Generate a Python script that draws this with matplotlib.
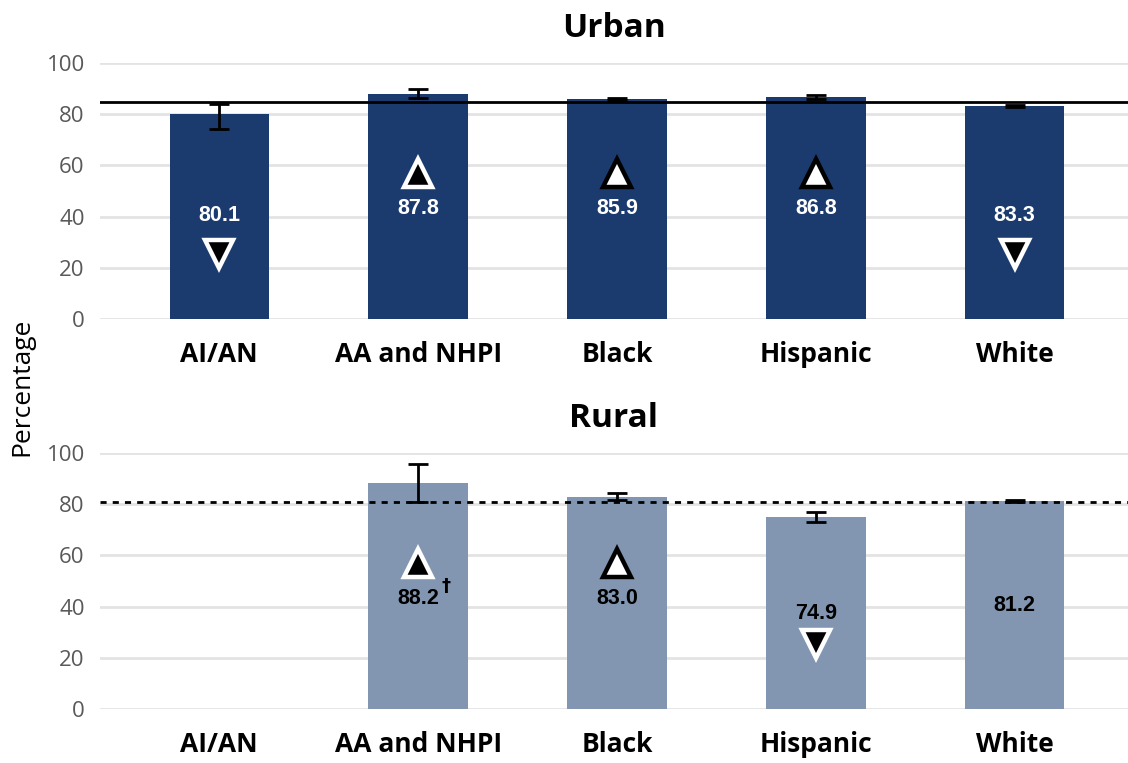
import matplotlib.pyplot as plt
import numpy as np

# data
groups = ['AI/AN', 'AA and NHPI', 'Black', 'Hispanic', 'White']

urban_vals = [80.1, 87.8, 85.9, 86.8, 83.3]
urban_err_lo = [5.9, 1.6, 0.5, 0.7, 0.4]
urban_err_hi = [3.9, 1.9, 0.5, 0.8, 0.4]
urban_ref = 84.6
# 'up'/'down' = arrow, 'f' filled (black in white), 'o' open (white in black)
urban_marks = ['down_f', 'up_f', 'up_o', 'up_o', 'down_f']

rural_vals = [np.nan, 88.2, 83.0, 74.9, 81.2]
rural_err_lo = [np.nan, 7.2, 1.4, 2.0, 0.3]
rural_err_hi = [np.nan, 7.5, 1.5, 1.9, 0.3]
rural_ref = 81.0
rural_marks = [None, 'up_f', 'up_o', 'down_f', None]
rural_notes = ['', '†', '', '', '']

urban_color = '#1B3A6E'
rural_color = '#8296B1'

plt.rcParams['font.family'] = ['Open Sans', 'DejaVu Sans']

fig = plt.figure(figsize=(11.28, 7.63), dpi=100)
W, H = 1128, 763
ax_top = fig.add_axes([100 / W, 1 - 319 / H, 1028 / W, 256 / H])
ax_bot = fig.add_axes([100 / W, 1 - 709 / H, 1028 / W, 256 / H])

x = np.arange(len(groups))


def draw_marker(ax, xi, y, kind):
    if kind is None:
        return
    shape = '^' if kind.startswith('up') else 'v'
    if kind.endswith('_f'):
        face, edge = 'black', 'white'
    else:
        face, edge = 'white', 'black'
    ax.plot(xi, y, marker=shape, ms=20, mfc=face, mec=edge, mew=3.2,
            linestyle='none', zorder=5)


def panel(ax, vals, lo, hi, ref, marks, color, txt_color, ref_style, title, notes=None):
    ax.set_xlim(-0.6, 4.57)
    ax.set_ylim(0, 100)
    ax.set_yticks(range(0, 101, 20))
    ax.grid(axis='y', color='#E3E3E3', linewidth=2)
    ax.set_axisbelow(True)
    for s in ax.spines.values():
        s.set_visible(False)
    ax.tick_params(axis='y', length=0, labelsize=16, labelcolor='#595959', pad=11)
    ax.tick_params(axis='x', length=0, pad=16)
    ax.set_xticks(x)
    ax.set_xticklabels(groups, fontsize=19, fontweight='bold')

    ax.bar(x, vals, width=0.5, color=color, zorder=2)
    ax.errorbar(x, vals, yerr=[lo, hi], fmt='none', ecolor='black',
                elinewidth=2, capsize=7, capthick=2, zorder=4)
    ax.axhline(ref, color='black', linewidth=2, linestyle=ref_style, zorder=3)

    for i, v in enumerate(vals):
        if np.isnan(v):
            continue
        m = marks[i]
        if m is None:
            ty = 40.6
        elif m.startswith('up'):
            draw_marker(ax, x[i], 57.0, m)
            ty = 43.3
        else:
            draw_marker(ax, x[i], 25.5, m)
            ty = 40.6 if txt_color == 'white' else 37.2
        ax.text(x[i], ty, f'{v:.1f}', ha='center', va='center', fontsize=15.5,
                fontweight='bold', color=txt_color, family='Liberation Sans', zorder=6)
        if notes and notes[i]:
            ax.annotate(notes[i], (x[i], ty), xytext=(20, 9), textcoords='offset points',
                        ha='center', va='center', fontsize=13, fontweight='bold',
                        family='DejaVu Sans', color=txt_color)

    ax.set_title(title, fontsize=24, fontweight='bold', pad=19)


panel(ax_top, urban_vals, urban_err_lo, urban_err_hi, urban_ref, urban_marks,
      urban_color, 'white', '-', 'Urban')
panel(ax_bot, rural_vals, rural_err_lo, rural_err_hi, rural_ref, rural_marks,
      rural_color, 'black', (0, (2.2, 2.2)), 'Rural', rural_notes)

fig.text(22 / W, 1 - 387 / H, 'Percentage', rotation=90, ha='center', va='center',
         fontsize=19)

plt.savefig('out.png', dpi=100)
